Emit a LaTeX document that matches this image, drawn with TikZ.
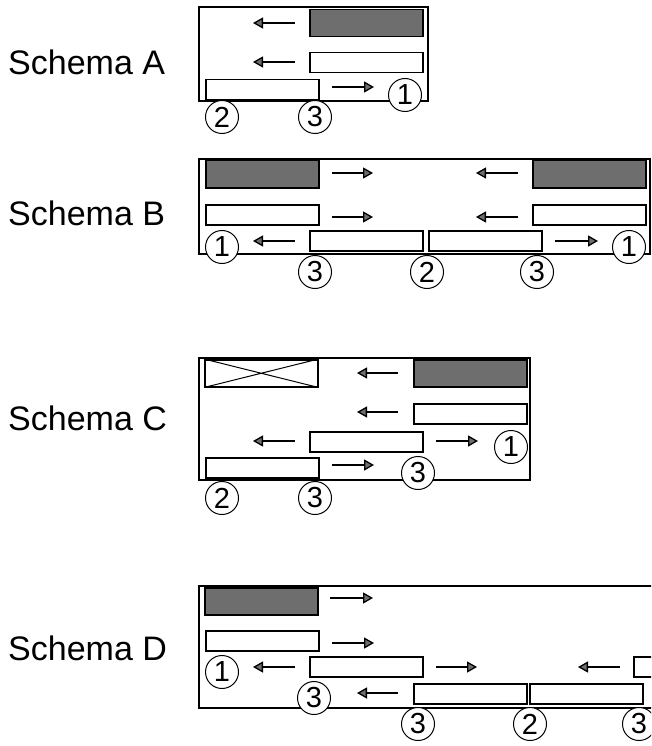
\documentclass[tikz,border=0pt]{standalone}
\usepackage{fontspec}
\setmainfont{Liberation Sans}
\usetikzlibrary{arrows.meta,positioning}

\definecolor{slab}{HTML}{6E6E6E}

\tikzset{
  bar/.style={draw, line width=1.5pt, minimum width=113pt, minimum height=20pt, inner sep=0pt, anchor=north west},
  darkbar/.style={bar, fill=slab, minimum height=27pt},
  num/.style={circle, draw, fill=white, line width=1pt, minimum size=33pt, inner sep=0pt, font=\fontsize{29}{29}\selectfont},
  flow/.style={-{Triangle[length=10pt,width=11pt,fill=slab]}, line width=1.3pt},
  title/.style={anchor=west, inner sep=0pt, font=\fontsize{34}{40}\selectfont},
  frame/.style={line width=1.6pt}
}

\begin{document}
\begin{tikzpicture}[x=1pt, y=-1pt]
  \useasboundingbox (0,0) rectangle (651,746);
  \clip (0,0) rectangle (651,746);

  % Schema A
  \node[title] (ta) at (8,62) {Schema A};
  \draw[frame] (199,7) rectangle (428,101);
  \node[darkbar] (a1) at (309,9) {};
  \node[bar] (a2) at (309,52) {};
  \node[bar] (a3) at (205,79) {};
  \draw[flow] (295,23) -- (253,23);
  \draw[flow] (295,62) -- (253,62);
  \draw[flow] (332,87) -- (374,87);
  \node[num] (na1) at (405,95) {1};
  \node[num] (na2) at (222,117) {2};
  \node[num] (na3) at (315,117) {3};

  % Schema B
  \node[title] (tb) at (8,213) {Schema B};
  \draw[frame] (199,159) rectangle (650,254);
  \node[darkbar] (b1) at (205,160) {};
  \node[darkbar] (b2) at (532,160) {};
  \node[bar] (b3) at (205,204) {};
  \node[bar] (b4) at (532,204) {};
  \node[bar] (b5) at (309,230) {};
  \node[bar] (b6) at (428,230) {};
  \draw[flow] (332,173) -- (373,173);
  \draw[flow] (518,173) -- (476,173);
  \draw[flow] (332,217) -- (373,217);
  \draw[flow] (518,217) -- (476,217);
  \draw[flow] (295,241) -- (253,241);
  \draw[flow] (555,241) -- (598,241);
  \node[num] (nb1) at (222,247) {1};
  \node[num] (nb2) at (629,247) {1};
  \node[num] (nb3) at (315,272) {3};
  \node[num] (nb4) at (427,272) {2};
  \node[num] (nb5) at (537,272) {3};

  % Schema C
  \node[title] (tc) at (8,418) {Schema C};
  \draw[frame] (199,358) rectangle (530,480);
  \node[bar, minimum height=27pt] (c0) at (204,359) {};
  \draw[line width=1pt] (c0.north west) -- (c0.south east) (c0.south west) -- (c0.north east);
  \node[darkbar] (c1) at (413,359) {};
  \node[bar] (c2) at (413,403) {};
  \node[bar] (c3) at (309,431) {};
  \node[bar] (c4) at (205,457) {};
  \draw[flow] (398,373) -- (357,373);
  \draw[flow] (398,412) -- (357,412);
  \draw[flow] (295,441) -- (253,441);
  \draw[flow] (436,441) -- (478,441);
  \draw[flow] (332,465) -- (374,465);
  \node[num] (nc1) at (511,447) {1};
  \node[num] (nc2) at (418,473) {3};
  \node[num] (nc3) at (222,498) {2};
  \node[num] (nc4) at (315,498) {3};

  % Schema D
  \node[title] (td) at (8,648) {Schema D};
  \draw[frame] (199,586) rectangle (700,708);
  \node[darkbar] (d1) at (204,587) {};
  \node[bar] (d2) at (205,630) {};
  \node[bar] (d3) at (309,656) {};
  \node[bar] (d4) at (633,656) {};
  \node[bar] (d5) at (413,683) {};
  \node[bar] (d6) at (529,683) {};
  \draw[flow] (330,598) -- (373,598);
  \draw[flow] (332,643) -- (374,643);
  \draw[flow] (295,667) -- (253,667);
  \draw[flow] (436,667) -- (477,667);
  \draw[flow] (620,667) -- (578,667);
  \draw[flow] (398,693) -- (357,693);
  \node[num] (nd1) at (222,672) {1};
  \node[num] (nd2) at (314,698) {3};
  \node[num] (nd3) at (418,724) {3};
  \node[num] (nd4) at (530,724) {2};
  \node[num] (nd5) at (639,724) {3};
\end{tikzpicture}
\end{document}
